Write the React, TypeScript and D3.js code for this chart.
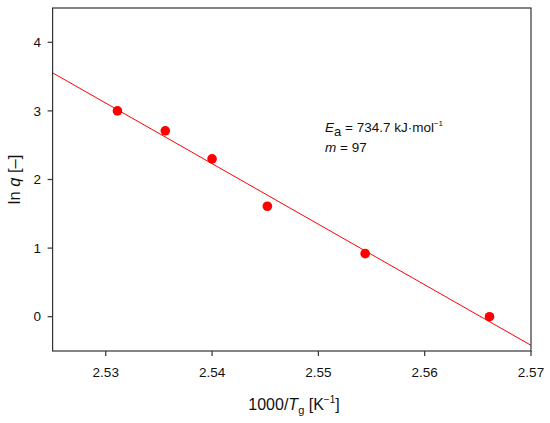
import React from "react";
import * as d3 from "d3";

const invT = [2.5311, 2.5356, 2.54, 2.5452, 2.5544, 2.5661];
const lnQ = [3.0, 2.71, 2.3, 1.61, 0.92, 0.0];
const fitX = [2.525, 2.57];
const fitY = [3.555, -0.417];
const xTicks = [2.53, 2.54, 2.55, 2.56, 2.57];
const yTicks = [0, 1, 2, 3, 4];

const W = 550, H = 423;
const m = { l: 52.6, r: 19, t: 8, b: 72 };
const FONT = "'Liberation Sans', Arial, sans-serif";

export default function App() {
  const x = d3.scaleLinear().domain([2.525, 2.57]).range([m.l, W - m.r]);
  const y = d3.scaleLinear().domain([-0.5, 4.5]).range([H - m.b, m.t]);
  const line = d3.line<number>().x((d) => x(fitX[d])).y((d) => y(fitY[d]));
  const axisColor = "#333";
  return (
    <svg width={W} height={H} style={{ position: "absolute", left: 0, top: 0 }} fontFamily={FONT}>
      <defs>
        <clipPath id="plot">
          <rect x={m.l} y={m.t} width={W - m.r - m.l} height={H - m.b - m.t} />
        </clipPath>
      </defs>
      <rect width={W} height={H} fill="white" />
      <path d={line([0, 1]) || ""} stroke="#ff0000" strokeWidth={1} fill="none" clipPath="url(#plot)" />
      {invT.map((v, i) => (
        <circle key={i} cx={x(v)} cy={y(lnQ[i])} r={4.8} fill="#ff0000" />
      ))}
      <rect x={m.l} y={m.t} width={W - m.r - m.l} height={H - m.b - m.t} fill="none" stroke={axisColor} strokeWidth={1.2} />
      {xTicks.map((t) => (
        <g key={t}>
          <line x1={x(t)} x2={x(t)} y1={H - m.b} y2={H - m.b + 5} stroke={axisColor} strokeWidth={1.2} />
          <text x={x(t)} y={H - m.b + 25.5} textAnchor="middle" fontSize={13.5} fill="#111">
            {t.toFixed(2)}
          </text>
        </g>
      ))}
      {yTicks.map((t) => (
        <g key={t}>
          <line x1={m.l - 5} x2={m.l} y1={y(t)} y2={y(t)} stroke={axisColor} strokeWidth={1.2} />
          <text x={m.l - 11.5} y={y(t) + 4.6} textAnchor="end" fontSize={13.5} fill="#111">
            {t}
          </text>
        </g>
      ))}
      <text x={294} y={410} textAnchor="middle" fontSize={16} fill="#111">
        1000/<tspan fontStyle="italic">T</tspan>
        <tspan fontSize={11} dy={4}>g</tspan>
        <tspan dy={-4}> [K</tspan>
        <tspan fontSize={10} dy={-7}>−1</tspan>
        <tspan dy={7}>]</tspan>
      </text>
      <text transform={`translate(20,${(m.t + H - m.b) / 2}) rotate(-90)`} textAnchor="middle" fontSize={16.5} fill="#111">
        ln <tspan fontStyle="italic">q</tspan> [–]
      </text>
      <text x={325} y={132} fontSize={13.5} fill="#111">
        <tspan fontStyle="italic">E</tspan>
        <tspan fontSize={13} dy={4}>a</tspan>
        <tspan dy={-4}> = 734.7 kJ·mol</tspan>
        <tspan fontSize={8} dy={-6}>−1</tspan>
      </text>
      <text x={325} y={152} fontSize={13.5} fill="#111">
        <tspan fontStyle="italic">m</tspan> = 97
      </text>
    </svg>
  );
}
